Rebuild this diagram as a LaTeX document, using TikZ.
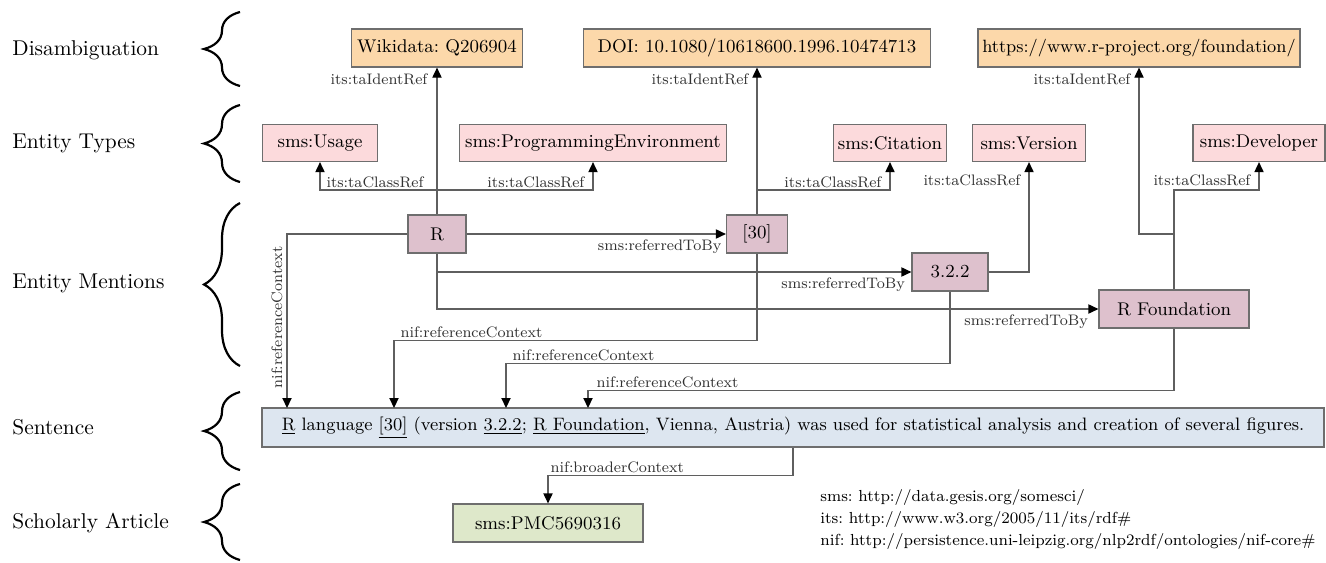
\documentclass[tikz,border=0pt]{standalone}
\usepackage{xcolor}
\usepackage{tikz}
\usetikzlibrary{positioning}
\usetikzlibrary{arrows.meta}
\usetikzlibrary{decorations.pathreplacing}

\definecolor{identfill}{RGB}{252,216,170}
\definecolor{typefill}{RGB}{252,218,220}
\definecolor{mentionfill}{RGB}{222,193,205}
\definecolor{sentfill}{RGB}{221,230,240}
\definecolor{articlefill}{RGB}{222,232,202}
\definecolor{boxgray}{RGB}{110,110,110}
\definecolor{edgegray}{RGB}{95,95,95}
\definecolor{labelgray}{RGB}{50,50,50}

\frenchspacing

\begin{document}
\begin{tikzpicture}[
  x=0.5pt, y=-0.5pt,
  font=\fontsize{9.2}{11}\selectfont
]
\tikzset{
    basebox/.style = {rectangle, draw=boxgray, line width=0.6pt, minimum height=19pt, inner sep=0pt},
    identnode/.style = {basebox, fill=identfill},
    typenode/.style = {basebox, fill=typefill, minimum height=18.5pt},
    mentionnode/.style = {basebox, fill=mentionfill},
    rel/.style = {draw=edgegray, line width=0.6pt, -{Triangle[length=5pt,width=4.6pt,color=black,fill=black]}},
    lbl/.style = {font=\fontsize{7.6}{9}\selectfont, inner sep=1pt, text=labelgray},
    layer/.style = {anchor=west, inner sep=0pt, font=\fontsize{10.7}{13}\selectfont},
    layerbrace/.style = {decorate, decoration={brace, amplitude=18pt}, line width=1.1pt},
}
\useasboundingbox (0,0) rectangle (1326,562);

% layers on the left
\node[layer] (lDis) at (12,50) {Disambiguation};
\node[layer] (lTyp) at (12,143) {Entity Types};
\node[layer] (lMen) at (12,283) {Entity Mentions};
\node[layer] (lSen) at (12,427) {Sentence};
\node[layer] (lArt) at (12,523) {Scholarly Article};
\draw[layerbrace] (240,86) -- (240,12);
\draw[layerbrace] (240,182) -- (240,105);
\draw[layerbrace] (240,366) -- (240,203);
\draw[layerbrace] (240,470) -- (240,392);
\draw[layerbrace] (240,560) -- (240,484);

% disambiguation
\node[identnode, minimum width=85.5pt] (wikidata) at (437,48) {Wikidata: Q206904};
\node[identnode, minimum width=173.5pt] (doi) at (757,48) {DOI: 10.1080/10618600.1996.10474713};
\node[identnode, minimum width=161pt, font=\fontsize{8.9}{11}\selectfont] (rproj) at (1139,48) {https://www.r-project.org/foundation/};

% entity types
\node[typenode, minimum width=57.5pt] (usage) at (320,143) {sms:Usage};
\node[typenode, minimum width=133.5pt] (progenv) at (593,143) {sms:ProgrammingEnvironment};
\node[typenode, minimum width=56.5pt] (citation) at (890,143) {sms:Citation};
\node[typenode, minimum width=56.5pt] (version) at (1029,143) {sms:Version};
\node[typenode, minimum width=66pt] (developer) at (1259,143) {sms:Developer};

% entity mentions
\node[mentionnode, minimum width=29pt] (mR) at (437,234) {R};
\node[mentionnode, minimum width=30.5pt] (m30) at (757,234) {[30]};
\node[mentionnode, minimum width=38pt] (m322) at (950,272) {3.2.2};
\node[mentionnode, minimum width=75pt] (mRF) at (1174,309) {R Foundation};

% sentence and article
\node[basebox, fill=sentfill, minimum width=531pt, minimum height=19.5pt, font=\fontsize{9}{11}\selectfont] (sentence) at (793,427.5)
  {\underline{R} language \underline{[30]} (version \underline{3.2.2}; \underline{R Foundation}, Vienna, Austria) was used for statistical analysis and creation of several figures.};
\node[basebox, fill=articlefill, minimum width=95pt] (pmc) at (548,523) {sms:PMC5690316};

\node[anchor=north west, align=left, inner sep=0pt, font=\fontsize{8}{11}\selectfont] (ns) at (820,489)
  {sms: http://data.gesis.org/somesci/\\
   its: http://www.w3.org/2005/11/its/rdf\#\\
   nif: http://persistence.uni-leipzig.org/nlp2rdf/ontologies/nif-core\#};

% junctions
\coordinate (jR) at (437,190);
\coordinate (j30) at (757,190);
\coordinate (jRF1) at (1174,234);
\coordinate (jRF2) at (1174,190);
\coordinate (sR) at (287,408);
\coordinate (s30) at (394,408);
\coordinate (s322) at (506,408);
\coordinate (sRF) at (588,408);

% identity refs
\draw[rel] (mR.north) -- node[lbl, pos=1, anchor=north east, xshift=-3.5pt, yshift=-2pt] {its:taIdentRef} (wikidata.south);
\draw[rel] (m30.north) -- node[lbl, pos=1, anchor=north east, xshift=-3pt, yshift=-2pt] {its:taIdentRef} (doi.south);
\draw[rel] (mRF.north) -- (jRF1) -| node[lbl, pos=1, anchor=north east, xshift=-3pt, yshift=-2pt] {its:taIdentRef} (rproj.south);

% class refs
\draw[rel] (jR) -| node[lbl, pos=0.5, anchor=south west, xshift=2pt] {its:taClassRef} (usage.south);
\draw[rel] (jR) -| node[lbl, pos=0.5, anchor=south east, xshift=-3pt] {its:taClassRef} (progenv.south);
\draw[rel] (j30) -| node[lbl, pos=0.5, anchor=south east, xshift=-3pt] {its:taClassRef} (citation.south);
\draw[rel] (m322.east) -| node[lbl, pos=1, anchor=north east, xshift=-3pt, yshift=-5pt] {its:taClassRef} (version.south);
\draw[rel] (jRF1) -- (jRF2) -| node[lbl, pos=0.5, anchor=south east, xshift=-3pt, yshift=1pt] {its:taClassRef} (developer.south);

% referred to by
\draw[rel] (mR.east) -- node[lbl, pos=1, anchor=north east, xshift=-1pt, yshift=-1.5pt] {sms:referredToBy} (m30.west);
\draw[rel] (mR.south) |- node[lbl, pos=1, anchor=north east, xshift=-2pt, yshift=-1.5pt] {sms:referredToBy} (m322.west);
\draw[rel] (mR.south) |- node[lbl, pos=1, anchor=north east, xshift=-4pt, yshift=-1.5pt] {sms:referredToBy} (mRF.west);

% reference context
\draw[rel] (mR.west) -| node[lbl, pos=0.74, rotate=90, anchor=south, yshift=1pt] {nif:referenceContext} (sR);
\draw[rel] (m30.south) -- ++(0,87) -| node[lbl, pos=0.5, anchor=south west, xshift=2pt] {nif:referenceContext} (s30);
\draw[rel] (m322.south) -- ++(0,72) -| node[lbl, pos=0.5, anchor=south west, xshift=2pt] {nif:referenceContext} (s322);
\draw[rel] (mRF.south) -- ++(0,62) -| node[lbl, pos=0.5, anchor=south west, xshift=3pt] {nif:referenceContext} (sRF);

% broader context
\draw[rel] (sentence.south) -- ++(0,28) -| node[lbl, pos=0.5, anchor=south west] {nif:broaderContext} (pmc.north);
\end{tikzpicture}
\end{document}
